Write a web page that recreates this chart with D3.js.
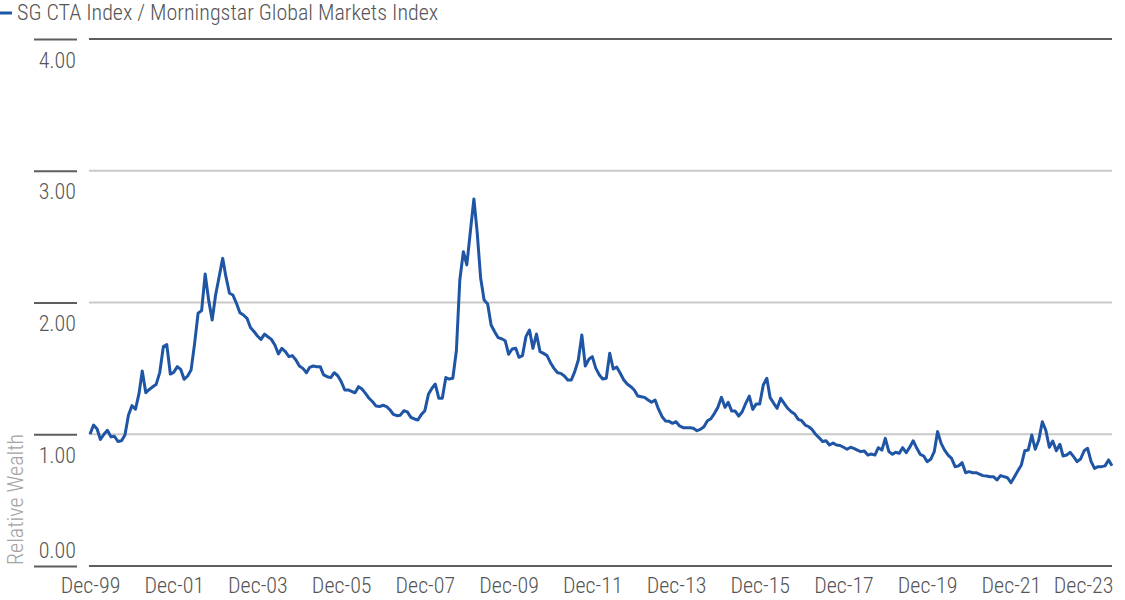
<!DOCTYPE html>
<html><head><meta charset="utf-8">
<script src="https://cdn.jsdelivr.net/npm/d3@7"></script>
<style>
body{margin:0;background:#fff}
svg{display:block}
text{font-family:"Liberation Sans Narrow","Roboto Condensed","DejaVu Sans Condensed","Liberation Sans",sans-serif;font-weight:300;}
</style>
</head><body>
<svg id="chart" width="1125" height="600"></svg>
<script>
// ---- data ----
const seriesName = "SG CTA Index / Morningstar Global Markets Index";
const yAxisTitle = "Relative Wealth";
const firstMonth = "1999-12";
// monthly values, Dec-99 first, then Jan..Dec of each year
const values = [
  1.00,
  1.07,1.04,0.96,1.00,1.03,0.98,0.985,0.945,0.95,0.995,1.146,1.217,
  1.19,1.31,1.48,1.315,1.34,1.36,1.38,1.47,1.665,1.68,1.457,1.47,
  1.513,1.49,1.417,1.442,1.487,1.69,1.918,1.938,2.216,2.02,1.867,2.057,
  2.196,2.335,2.196,2.07,2.057,1.994,1.923,1.905,1.88,1.81,1.78,1.746,
  1.72,1.76,1.74,1.72,1.677,1.61,1.652,1.627,1.589,1.597,1.564,1.518,
  1.50,1.467,1.508,1.518,1.513,1.513,1.45,1.437,1.43,1.467,1.444,1.40,
  1.336,1.336,1.326,1.315,1.361,1.343,1.31,1.273,1.247,1.214,1.21,1.22,
  1.21,1.184,1.151,1.141,1.145,1.179,1.17,1.128,1.116,1.108,1.151,1.179,
  1.303,1.349,1.381,1.273,1.273,1.43,1.419,1.425,1.634,2.171,2.386,2.285,
  2.538,2.786,2.538,2.184,2.019,1.989,1.829,1.778,1.733,1.725,1.71,1.607,
  1.647,1.652,1.584,1.597,1.741,1.791,1.652,1.761,1.627,1.614,1.597,1.543,
  1.50,1.467,1.462,1.442,1.412,1.412,1.475,1.564,1.753,1.518,1.569,1.589,
  1.50,1.45,1.419,1.425,1.614,1.495,1.51,1.463,1.412,1.381,1.361,1.336,
  1.29,1.285,1.28,1.26,1.243,1.26,1.19,1.133,1.10,1.098,1.083,1.095,
  1.063,1.05,1.05,1.05,1.045,1.027,1.037,1.057,1.103,1.118,1.159,1.204,
  1.28,1.204,1.242,1.176,1.176,1.138,1.171,1.235,1.29,1.189,1.23,1.23,
  1.374,1.425,1.278,1.235,1.197,1.273,1.235,1.197,1.171,1.154,1.113,1.103,
  1.07,1.057,1.037,1.00,0.975,0.945,0.951,0.918,0.934,0.918,0.915,0.901,
  0.886,0.901,0.893,0.88,0.868,0.873,0.842,0.85,0.842,0.898,0.88,0.969,
  0.868,0.848,0.863,0.855,0.898,0.86,0.90,0.951,0.895,0.848,0.835,0.792,
  0.81,0.868,1.02,0.931,0.88,0.842,0.817,0.754,0.76,0.784,0.708,0.716,
  0.708,0.708,0.698,0.686,0.683,0.678,0.678,0.653,0.686,0.678,0.67,0.632,
  0.678,0.724,0.764,0.875,0.88,0.994,0.886,0.956,1.095,1.032,0.901,0.949,
  0.875,0.924,0.835,0.842,0.863,0.83,0.792,0.812,0.875,0.893,0.792,0.741,
  0.754,0.754,0.76,0.805,0.76
];
const yTicks = [0, 1, 2, 3, 4];
const yTickLabels = ["0.00", "1.00", "2.00", "3.00", "4.00"];
const xTickMonths = ["1999-12","2001-12","2003-12","2005-12","2007-12","2009-12","2011-12","2013-12","2015-12","2017-12","2019-12","2021-12","2023-12"];
const xTickLabels = ["Dec-99","Dec-01","Dec-03","Dec-05","Dec-07","Dec-09","Dec-11","Dec-13","Dec-15","Dec-17","Dec-19","Dec-21","Dec-23"];

// ---- drawing ----
const parse = d3.timeParse("%Y-%m");
const start = parse(firstMonth);
const points = values.map((v, i) => ({date: d3.timeMonth.offset(start, i), value: v}));
const tickDates = xTickMonths.map(parse);

const plotL = 89, plotR = 1112, plotTop = 39, plotBottom = 566;
const x = d3.scaleTime()
  .domain([start, points[points.length - 1].date])
  .range([90, 1112]);
const y = d3.scaleLinear().domain([0, 4]).range([plotBottom, plotTop]);

const svg = d3.select("#chart");
const dark = "#5e5e5e", light = "#c9c9c9", textCol = "#555555";

// gridlines
svg.append("g").selectAll("line").data(yTicks).join("line")
  .attr("x1", plotL).attr("x2", plotR)
  .attr("y1", d => y(d)).attr("y2", d => y(d))
  .attr("stroke", d => (d === 0 || d === 4) ? dark : light)
  .attr("stroke-width", 2);

// y axis (tick segments at left + labels)
const yAxis = d3.axisLeft(y).tickValues(yTicks)
  .tickFormat((d, i) => yTickLabels[i]).tickSizeInner(43).tickSizeOuter(0).tickPadding(0);
const gy = svg.append("g").attr("transform", "translate(77,0)").call(yAxis);
gy.select(".domain").remove();
gy.selectAll(".tick line").attr("stroke", dark).attr("stroke-width", 2);
gy.selectAll(".tick text")
  .attr("x", -1)
  .attr("dy", null)
  .attr("y", d => d === 0 ? -9 : 28)
  .attr("fill", textCol)
  .style("font-size", "22px");

// x axis labels
const xAxis = d3.axisBottom(x).tickValues(tickDates)
  .tickFormat((d, i) => xTickLabels[i]).tickSize(0).tickPadding(0);
const gx = svg.append("g").attr("transform", `translate(0,${plotBottom})`).call(xAxis);
gx.select(".domain").remove();
gx.selectAll(".tick text")
  .attr("y", 27).attr("dy", null)
  .attr("fill", textCol)
  .style("font-size", "22px");
// keep the last label inside the plot's right edge
gx.selectAll(".tick").each(function(d) {
  const t = d3.select(this).select("text");
  const w = t.node().getComputedTextLength();
  const cx = x(d);
  if (cx + w / 2 > plotR + 1) t.attr("x", (plotR + 1 - w / 2) - cx);
});

// y axis title
svg.append("text")
  .attr("transform", "translate(23,565) rotate(-90)")
  .attr("text-anchor", "start")
  .attr("fill", "#a3a3a3")
  .style("font-size", "22px")
  .text(yAxisTitle);

// line
const line = d3.line().x(d => x(d.date)).y(d => y(d.value));
svg.append("path").datum(points)
  .attr("d", line)
  .attr("fill", "none")
  .attr("stroke", "#1f55a5")
  .attr("stroke-width", 3)
  .attr("stroke-linejoin", "round");

// legend
svg.append("line").attr("x1", 0).attr("x2", 12).attr("y1", 13).attr("y2", 13)
  .attr("stroke", "#1f55a5").attr("stroke-width", 3);
svg.append("text").attr("x", 17).attr("y", 20)
  .attr("fill", textCol).style("font-size", "22px")
  .text(seriesName);
</script>
</body></html>
